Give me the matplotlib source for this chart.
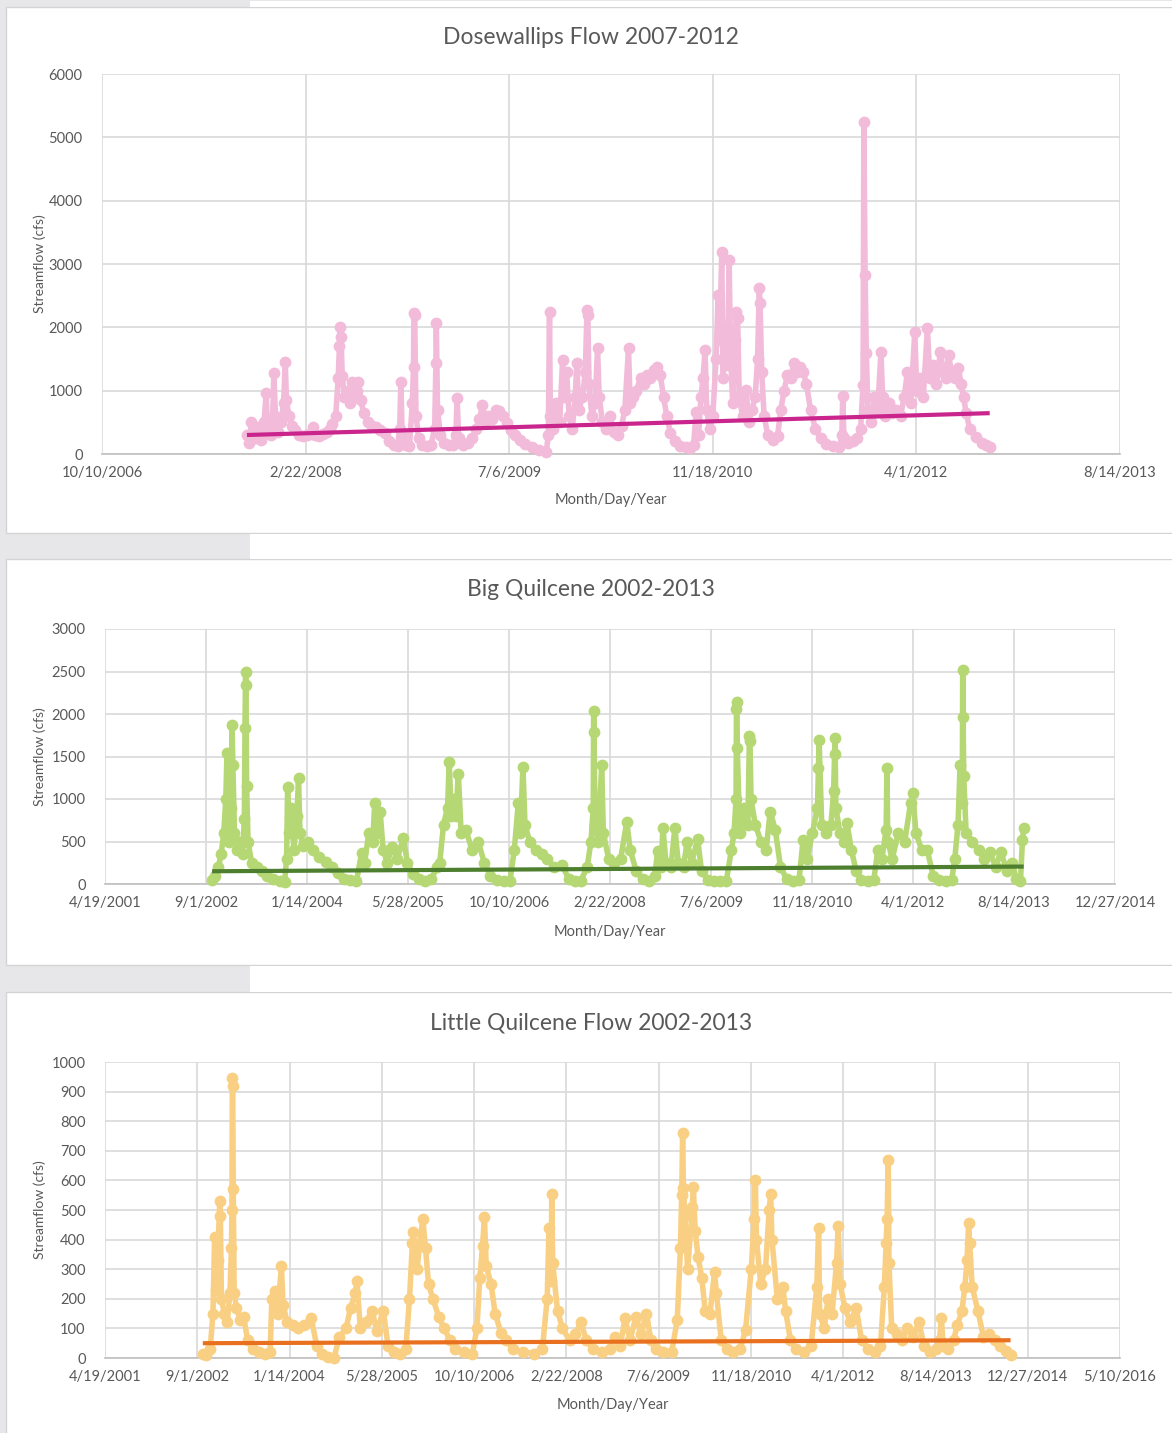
import numpy as np
import pandas as pd
import matplotlib
matplotlib.use("Agg")
import matplotlib.pyplot as plt
from matplotlib.patches import Rectangle

W, H = 1172, 1433
plt.rcParams['font.family'] = ['Lato', 'DejaVu Sans']
TXT = '#595959'
GRID = '#D9D9D9'

# ---------------- data ----------------
dose_obs = [
    ("2007-10-01", 300), ("2007-10-06", 180), ("2007-10-12", 500), ("2007-10-20", 260), ("2007-10-28", 420),
    ("2007-11-05", 220), ("2007-11-12", 500), ("2007-11-17", 960), ("2007-11-21", 400), ("2007-11-28", 300),
    ("2007-12-03", 550), ("2007-12-06", 1280), ("2007-12-10", 600), ("2007-12-16", 350), ("2007-12-24", 500),
    ("2007-12-30", 800), ("2008-01-03", 1450), ("2008-01-06", 850), ("2008-01-12", 600), ("2008-01-20", 450),
    ("2008-01-28", 380), ("2008-02-06", 300), ("2008-02-16", 280), ("2008-02-26", 300), ("2008-03-05", 320),
    ("2008-03-10", 430), ("2008-03-16", 300), ("2008-03-26", 290), ("2008-04-05", 310), ("2008-04-15", 350),
    ("2008-04-22", 400), ("2008-04-28", 470), ("2008-05-06", 600), ("2008-05-12", 1200), ("2008-05-15", 1700),
    ("2008-05-17", 2000), ("2008-05-19", 1850), ("2008-05-22", 1230), ("2008-05-27", 900), ("2008-06-03", 1000),
    ("2008-06-09", 800), ("2008-06-14", 1140), ("2008-06-20", 900), ("2008-06-26", 1000), ("2008-06-30", 1140),
    ("2008-07-06", 850), ("2008-07-14", 650), ("2008-07-24", 500), ("2008-08-04", 450), ("2008-08-12", 420),
    ("2008-08-22", 380), ("2008-09-05", 330), ("2008-09-15", 200), ("2008-09-25", 150), ("2008-10-05", 120),
    ("2008-10-10", 400), ("2008-10-13", 1140), ("2008-10-16", 300), ("2008-10-25", 150), ("2008-11-03", 120),
    ("2008-11-10", 800), ("2008-11-13", 1380), ("2008-11-14", 2220), ("2008-11-16", 2190), ("2008-11-19", 600),
    ("2008-11-26", 250), ("2008-12-05", 150), ("2008-12-15", 130), ("2008-12-26", 150), ("2009-01-04", 400),
    ("2009-01-07", 1430), ("2009-01-08", 2070), ("2009-01-11", 700), ("2009-01-18", 300), ("2009-01-28", 180),
    ("2009-02-08", 140), ("2009-02-18", 150), ("2009-02-25", 300), ("2009-02-28", 880), ("2009-03-04", 250),
    ("2009-03-14", 150), ("2009-03-26", 180), ("2009-04-06", 250), ("2009-04-16", 400), ("2009-04-24", 550),
    ("2009-05-01", 770), ("2009-05-08", 500), ("2009-05-16", 600), ("2009-05-24", 550), ("2009-06-04", 700),
    ("2009-06-12", 680), ("2009-06-20", 600), ("2009-06-30", 490), ("2009-07-10", 380), ("2009-07-20", 300),
    ("2009-08-01", 220), ("2009-08-15", 160), ("2009-09-01", 110), ("2009-09-18", 60), ("2009-10-05", 30),
    ("2009-10-10", 300), ("2009-10-13", 2240), ("2009-10-15", 600), ("2009-10-22", 400), ("2009-10-30", 800),
    ("2009-11-07", 500), ("2009-11-14", 1480), ("2009-11-18", 900), ("2009-11-24", 1300), ("2009-11-30", 600),
    ("2009-12-08", 400), ("2009-12-15", 900), ("2009-12-19", 1440), ("2009-12-24", 700), ("2010-01-02", 900),
    ("2010-01-09", 1300), ("2010-01-13", 2270), ("2010-01-15", 2200), ("2010-01-18", 1100), ("2010-01-25", 600),
    ("2010-02-02", 800), ("2010-02-08", 1670), ("2010-02-12", 900), ("2010-02-20", 500), ("2010-03-01", 400),
    ("2010-03-10", 600), ("2010-03-20", 350), ("2010-03-30", 300), ("2010-04-08", 450), ("2010-04-16", 700),
    ("2010-04-25", 1670), ("2010-04-29", 800), ("2010-05-06", 900), ("2010-05-14", 1000), ("2010-05-25", 1200),
    ("2010-06-02", 1100), ("2010-06-10", 1250), ("2010-06-18", 1200), ("2010-06-26", 1330), ("2010-07-04", 1370),
    ("2010-07-12", 1250), ("2010-07-20", 900), ("2010-07-28", 600), ("2010-08-06", 330), ("2010-08-18", 200),
    ("2010-08-30", 130), ("2010-09-12", 110), ("2010-09-24", 100), ("2010-10-02", 150), ("2010-10-08", 660),
    ("2010-10-14", 300), ("2010-10-20", 900), ("2010-10-25", 1200), ("2010-10-30", 1640), ("2010-11-03", 700),
    ("2010-11-10", 400), ("2010-11-18", 600), ("2010-11-26", 1500), ("2010-12-01", 2510), ("2010-12-05", 1800),
    ("2010-12-10", 3190), ("2010-12-13", 1200), ("2010-12-18", 2000), ("2010-12-24", 1400), ("2010-12-28", 3060),
    ("2011-01-01", 1500), ("2011-01-06", 800), ("2011-01-12", 1800), ("2011-01-15", 2240), ("2011-01-18", 2140),
    ("2011-01-22", 900), ("2011-01-30", 600), ("2011-02-08", 1010), ("2011-02-14", 500), ("2011-02-22", 700),
    ("2011-03-02", 900), ("2011-03-08", 1500), ("2011-03-12", 2620), ("2011-03-14", 2390), ("2011-03-18", 1300),
    ("2011-03-24", 600), ("2011-04-02", 300), ("2011-04-14", 220), ("2011-04-26", 280), ("2011-05-04", 700),
    ("2011-05-12", 1000), ("2011-05-20", 1240), ("2011-05-28", 1200), ("2011-06-05", 1430), ("2011-06-12", 1300),
    ("2011-06-20", 1370), ("2011-06-28", 1300), ("2011-07-06", 1100), ("2011-07-16", 700), ("2011-07-28", 400),
    ("2011-08-10", 250), ("2011-08-24", 160), ("2011-09-08", 120), ("2011-09-25", 110), ("2011-10-01", 300),
    ("2011-10-03", 920), ("2011-10-06", 250), ("2011-10-16", 180), ("2011-10-28", 200), ("2011-11-08", 250),
    ("2011-11-16", 400), ("2011-11-22", 1090), ("2011-11-24", 5250), ("2011-11-27", 2830), ("2011-11-30", 1590),
    ("2011-12-04", 700), ("2011-12-12", 500), ("2011-12-20", 900), ("2011-12-28", 700), ("2012-01-05", 1610),
    ("2012-01-09", 900), ("2012-01-16", 600), ("2012-01-24", 800), ("2012-02-02", 650), ("2012-02-12", 700),
    ("2012-02-22", 600), ("2012-03-02", 900), ("2012-03-10", 1300), ("2012-03-18", 800), ("2012-03-28", 1930),
    ("2012-04-02", 1000), ("2012-04-10", 1200), ("2012-04-18", 900), ("2012-04-28", 1990), ("2012-05-04", 1200),
    ("2012-05-12", 1400), ("2012-05-20", 1100), ("2012-05-30", 1610), ("2012-06-06", 1300), ("2012-06-12", 1200),
    ("2012-06-19", 1560), ("2012-06-26", 1300), ("2012-07-04", 1200), ("2012-07-13", 1360), ("2012-07-20", 1100),
    ("2012-07-26", 900), ("2012-08-01", 650), ("2012-08-10", 400), ("2012-08-26", 270), ("2012-09-10", 180),
    ("2012-09-20", 140), ("2012-09-28", 110),
]
dose_trend = (300, 645)

bigq_obs = [
    ("2002-10-01", 50), ("2002-10-15", 100), ("2002-11-01", 200), ("2002-11-15", 350), ("2002-11-28", 600),
    ("2002-12-08", 1000), ("2002-12-14", 1540), ("2002-12-18", 700), ("2002-12-26", 500), ("2003-01-04", 900),
    ("2003-01-08", 1870), ("2003-01-12", 1400), ("2003-01-20", 600), ("2003-02-01", 400), ("2003-02-15", 500),
    ("2003-03-01", 350), ("2003-03-10", 770), ("2003-03-13", 1840), ("2003-03-16", 2490), ("2003-03-18", 2340),
    ("2003-03-21", 1150), ("2003-03-28", 500), ("2003-04-15", 250), ("2003-05-10", 200), ("2003-06-05", 150),
    ("2003-07-01", 100), ("2003-08-01", 60), ("2003-09-01", 30), ("2003-09-25", 20), ("2003-10-05", 300),
    ("2003-10-10", 1140), ("2003-10-16", 600), ("2003-10-28", 900), ("2003-11-10", 400), ("2003-11-25", 800),
    ("2003-12-03", 1250), ("2003-12-10", 600), ("2003-12-25", 450), ("2004-01-20", 500), ("2004-02-15", 400),
    ("2004-03-15", 320), ("2004-04-15", 260), ("2004-05-15", 200), ("2004-06-15", 130), ("2004-07-15", 60),
    ("2004-08-15", 50), ("2004-09-15", 40), ("2004-10-10", 360), ("2004-10-25", 250), ("2004-11-15", 600),
    ("2004-12-05", 500), ("2004-12-14", 950), ("2004-12-25", 600), ("2005-01-10", 850), ("2005-01-25", 400),
    ("2005-02-15", 250), ("2005-03-10", 440), ("2005-04-05", 300), ("2005-05-05", 540), ("2005-05-25", 250),
    ("2005-06-20", 120), ("2005-07-20", 60), ("2005-08-20", 40), ("2005-09-20", 60), ("2005-10-20", 200),
    ("2005-11-01", 250), ("2005-11-20", 700), ("2005-12-10", 900), ("2005-12-18", 1440), ("2005-12-28", 800),
    ("2006-01-10", 1000), ("2006-01-20", 800), ("2006-02-01", 1300), ("2006-02-15", 600), ("2006-03-10", 640),
    ("2006-04-10", 400), ("2006-05-10", 500), ("2006-06-10", 250), ("2006-07-10", 100), ("2006-08-10", 50),
    ("2006-09-15", 30), ("2006-10-15", 40), ("2006-11-05", 400), ("2006-11-25", 950), ("2006-12-05", 600),
    ("2006-12-18", 1380), ("2006-12-28", 700), ("2007-01-20", 500), ("2007-02-20", 400), ("2007-03-20", 350),
    ("2007-04-15", 300), ("2007-05-20", 200), ("2007-07-01", 220), ("2007-08-01", 60), ("2007-09-01", 30),
    ("2007-10-01", 40), ("2007-11-01", 200), ("2007-11-20", 500), ("2007-12-01", 900), ("2007-12-03", 2030),
    ("2007-12-05", 1790), ("2007-12-10", 700), ("2007-12-25", 500), ("2008-01-12", 1400), ("2008-01-20", 600),
    ("2008-02-15", 300), ("2008-03-15", 250), ("2008-04-15", 300), ("2008-05-15", 730), ("2008-06-01", 400),
    ("2008-07-01", 150), ("2008-08-01", 60), ("2008-09-01", 40), ("2008-10-01", 100), ("2008-10-15", 390),
    ("2008-11-01", 200), ("2008-11-10", 660), ("2008-11-25", 250), ("2008-12-20", 200), ("2009-01-08", 660),
    ("2009-01-25", 250), ("2009-02-20", 200), ("2009-03-10", 500), ("2009-04-01", 250), ("2009-05-01", 530),
    ("2009-05-20", 150), ("2009-06-20", 50), ("2009-07-20", 40), ("2009-08-20", 30), ("2009-09-20", 40),
    ("2009-10-15", 400), ("2009-10-28", 600), ("2009-11-07", 1000), ("2009-11-09", 2060), ("2009-11-10", 2140),
    ("2009-11-13", 1600), ("2009-11-25", 600), ("2009-12-15", 900), ("2010-01-05", 700), ("2010-01-12", 1740),
    ("2010-01-15", 1680), ("2010-01-20", 1000), ("2010-02-10", 700), ("2010-03-10", 500), ("2010-04-05", 400),
    ("2010-04-25", 850), ("2010-05-20", 640), ("2010-06-15", 200), ("2010-07-15", 60), ("2010-08-15", 40),
    ("2010-09-15", 50), ("2010-10-05", 520), ("2010-10-25", 300), ("2010-11-20", 600), ("2010-12-15", 900),
    ("2010-12-20", 1360), ("2010-12-23", 1700), ("2011-01-05", 700), ("2011-01-25", 600), ("2011-02-20", 700),
    ("2011-03-05", 1090), ("2011-03-10", 1530), ("2011-03-12", 1720), ("2011-03-16", 900), ("2011-04-05", 600),
    ("2011-04-25", 500), ("2011-05-10", 720), ("2011-06-01", 400), ("2011-06-25", 150), ("2011-07-20", 50),
    ("2011-08-20", 40), ("2011-09-20", 50), ("2011-10-10", 400), ("2011-10-30", 300), ("2011-11-20", 640),
    ("2011-11-24", 1360), ("2011-11-28", 500), ("2011-12-20", 300), ("2012-01-20", 600), ("2012-02-20", 500),
    ("2012-03-20", 950), ("2012-04-01", 1070), ("2012-04-15", 600), ("2012-05-15", 400), ("2012-06-10", 400),
    ("2012-07-10", 100), ("2012-08-10", 50), ("2012-09-10", 40), ("2012-10-10", 50), ("2012-10-25", 300),
    ("2012-11-10", 700), ("2012-11-20", 1400), ("2012-12-01", 950), ("2012-12-03", 2520), ("2012-12-05", 1960),
    ("2012-12-08", 1270), ("2012-12-20", 600), ("2013-01-20", 500), ("2013-02-20", 400), ("2013-03-20", 300),
    ("2013-04-15", 380), ("2013-05-15", 200), ("2013-06-10", 380), ("2013-07-10", 150), ("2013-08-05", 250),
    ("2013-08-25", 60), ("2013-09-15", 40), ("2013-09-25", 520), ("2013-10-01", 660),
]
bigq_trend = (150, 205)

littleq_obs = [
    ("2002-10-01", 15), ("2002-10-20", 10), ("2002-11-10", 30), ("2002-11-25", 150), ("2002-12-04", 410),
    ("2002-12-12", 230), ("2002-12-20", 330), ("2003-01-01", 530), ("2003-01-04", 480), ("2003-01-10", 200),
    ("2003-01-25", 150), ("2003-02-10", 120), ("2003-02-25", 220), ("2003-03-05", 370), ("2003-03-08", 500),
    ("2003-03-10", 945), ("2003-03-12", 920), ("2003-03-15", 570), ("2003-03-20", 220), ("2003-04-01", 170),
    ("2003-04-20", 130), ("2003-05-10", 140), ("2003-06-01", 60), ("2003-07-01", 30), ("2003-08-01", 20),
    ("2003-09-01", 15), ("2003-10-01", 20), ("2003-10-10", 200), ("2003-10-25", 225), ("2003-11-10", 150),
    ("2003-12-01", 310), ("2003-12-10", 180), ("2004-01-01", 120), ("2004-02-01", 110), ("2004-03-01", 100),
    ("2004-04-01", 110), ("2004-05-10", 135), ("2004-06-10", 40), ("2004-07-10", 15), ("2004-08-10", 5),
    ("2004-09-10", 0), ("2004-10-10", 70), ("2004-11-15", 100), ("2004-12-10", 170), ("2005-01-05", 220),
    ("2005-01-12", 260), ("2005-02-01", 100), ("2005-03-01", 120), ("2005-04-05", 160), ("2005-05-01", 90),
    ("2005-06-05", 160), ("2005-07-01", 40), ("2005-08-01", 20), ("2005-09-01", 15), ("2005-10-05", 30),
    ("2005-10-25", 200), ("2005-11-10", 390), ("2005-11-15", 425), ("2005-12-05", 300), ("2005-12-20", 390),
    ("2006-01-05", 470), ("2006-01-20", 370), ("2006-02-05", 250), ("2006-03-01", 200), ("2006-04-01", 140),
    ("2006-05-01", 100), ("2006-06-01", 60), ("2006-07-01", 30), ("2006-08-15", 20), ("2006-10-01", 15),
    ("2006-10-25", 100), ("2006-11-10", 270), ("2006-11-25", 380), ("2006-12-05", 475), ("2006-12-15", 310),
    ("2007-01-10", 250), ("2007-02-01", 150), ("2007-03-05", 85), ("2007-04-01", 60), ("2007-05-10", 30),
    ("2007-07-01", 20), ("2007-09-01", 15), ("2007-10-15", 30), ("2007-11-10", 200), ("2007-11-20", 440),
    ("2007-12-01", 260), ("2007-12-05", 555), ("2007-12-10", 320), ("2008-01-05", 160), ("2008-02-01", 100),
    ("2008-03-10", 60), ("2008-04-10", 80), ("2008-05-10", 120), ("2008-06-10", 60), ("2008-07-15", 30),
    ("2008-09-01", 20), ("2008-10-15", 30), ("2008-11-10", 70), ("2008-12-10", 40), ("2009-01-05", 135),
    ("2009-02-01", 60), ("2009-03-05", 140), ("2009-04-01", 80), ("2009-05-01", 150), ("2009-05-25", 60),
    ("2009-06-20", 30), ("2009-08-01", 20), ("2009-09-15", 20), ("2009-10-15", 130), ("2009-11-01", 370),
    ("2009-11-08", 550), ("2009-11-13", 760), ("2009-11-17", 575), ("2009-11-25", 480), ("2009-12-10", 300),
    ("2010-01-05", 510), ("2010-01-10", 578), ("2010-01-20", 430), ("2010-02-05", 340), ("2010-02-25", 270),
    ("2010-03-15", 160), ("2010-04-10", 150), ("2010-05-05", 290), ("2010-05-15", 220), ("2010-06-10", 60),
    ("2010-07-10", 30), ("2010-08-15", 20), ("2010-09-20", 30), ("2010-10-20", 95), ("2010-11-20", 300),
    ("2010-12-05", 470), ("2010-12-12", 600), ("2010-12-18", 400), ("2011-01-10", 250), ("2011-02-05", 300),
    ("2011-02-25", 500), ("2011-03-05", 555), ("2011-03-12", 400), ("2011-04-10", 200), ("2011-05-10", 240),
    ("2011-05-25", 160), ("2011-06-20", 60), ("2011-07-20", 30), ("2011-09-01", 20), ("2011-10-10", 40),
    ("2011-11-10", 240), ("2011-11-20", 440), ("2011-11-25", 150), ("2011-12-20", 100), ("2012-01-10", 200),
    ("2012-02-01", 150), ("2012-02-25", 320), ("2012-03-05", 445), ("2012-03-15", 250), ("2012-04-10", 170),
    ("2012-05-10", 120), ("2012-06-10", 170), ("2012-07-10", 60), ("2012-08-15", 30), ("2012-09-20", 20),
    ("2012-10-20", 40), ("2012-11-10", 240), ("2012-11-20", 390), ("2012-11-25", 470), ("2012-12-01", 670),
    ("2012-12-05", 320), ("2012-12-20", 100), ("2013-01-15", 80), ("2013-02-15", 60), ("2013-03-15", 100),
    ("2013-04-15", 70), ("2013-05-15", 120), ("2013-06-15", 40), ("2013-07-15", 20), ("2013-08-15", 30),
    ("2013-09-05", 60), ("2013-09-15", 135), ("2013-09-25", 40), ("2013-10-20", 30), ("2013-11-20", 60),
    ("2013-12-10", 110), ("2014-01-05", 160), ("2014-01-20", 240), ("2014-02-01", 330), ("2014-02-10", 455),
    ("2014-02-15", 390), ("2014-03-01", 240), ("2014-04-01", 160), ("2014-05-01", 70), ("2014-06-01", 80),
    ("2014-07-01", 60), ("2014-08-01", 40), ("2014-09-01", 25), ("2014-09-25", 10),
]
littleq_trend = (50, 60)

titles = ["Dosewallips Flow 2007-2012", "Big Quilcene 2002-2013", "Little Quilcene Flow 2002-2013"]
x_starts = ["2006-10-10", "2001-04-19", "2001-04-19"]
x_ntick = [6, 11, 12]
y_max = [6000, 3000, 1000]
y_step = [1000, 500, 100]
colors = [("#F2BBD9", "#C9258C"), ("#B5D874", "#4D7F2F"), ("#F9D083", "#E8701F")]

# ---------------- figure ----------------
fig = plt.figure(figsize=(W / 100, H / 100), dpi=100)
bg = fig.add_axes([0, 0, 1, 1], zorder=-5)
bg.set_xlim(0, W)
bg.set_ylim(H, 0)
bg.axis('off')
# screenshot cards
bg.add_patch(Rectangle((0, 0), W, H, color='#E7E7E9'))
for top, bot in [(7, 533), (559, 965), (992, H + 5)]:
    bg.add_patch(Rectangle((6, top), W, bot - top, facecolor='white', edgecolor='#D4D4D4', lw=1))
for top, bot in [(0, 7), (533, 559), (965, 992)]:
    bg.add_patch(Rectangle((250, top + 1), W, bot - top - 1, facecolor='white', edgecolor='none'))

# plot areas in pixels: left, top, right, bottom
boxes = [(102, 74, 1120, 454), (105, 629, 1115, 884), (105, 1062, 1120, 1358)]
title_y = [37, 590, 1023]
xlabel_y = [500, 932, 1405]
ylabel_x = [40, 40, 40]

series = [dose_obs, bigq_obs, littleq_obs]
trends = [dose_trend, bigq_trend, littleq_trend]

for i in range(3):
    l, t, r, b = boxes[i]
    ax = fig.add_axes([l / W, 1 - b / H, (r - l) / W, (b - t) / H])
    ax.set_facecolor('none')

    dates = pd.to_datetime([d for d, v in series[i]])
    flows = np.array([v for d, v in series[i]])
    light, dark = colors[i]
    ax.plot(dates, flows, color=light, lw=4, marker='o', ms=8.5,
            markeredgewidth=0, solid_joinstyle='round', zorder=3, clip_on=False)
    ax.plot([dates[0], dates[-1]], list(trends[i]), color=dark, lw=3, zorder=4,
            solid_capstyle='butt')

    ticks = pd.date_range(x_starts[i], periods=x_ntick[i], freq='500D')
    ax.set_xlim(ticks[0], ticks[-1])
    ax.set_xticks(ticks)
    ax.set_xticklabels([f"{d.month}/{d.day}/{d.year}" for d in ticks])
    ax.set_ylim(0, y_max[i])
    ax.set_yticks(np.arange(0, y_max[i] + 1, y_step[i]))

    ax.grid(True, color=GRID, lw=1.2, zorder=0)
    ax.set_axisbelow(True)
    for s in ['top', 'right', 'left']:
        ax.spines[s].set_visible(False)
    ax.spines['bottom'].set_color('#BFBFBF')
    ax.spines['bottom'].set_linewidth(1.2)
    ax.tick_params(length=0, labelsize=10.5, labelcolor=TXT, pad=9)
    ax.tick_params(axis='y', pad=14)

    fig.text(591 / W, 1 - title_y[i] / H, titles[i], ha='center', va='center',
             fontsize=16.5, color=TXT)
    fig.text((l + r) / 2 / W, 1 - xlabel_y[i] / H, "Month/Day/Year", ha='center',
             va='center', fontsize=10.5, color=TXT)
    fig.text(ylabel_x[i] / W, 1 - (t + b) / 2 / H, "Streamflow (cfs)", ha='center',
             va='center', rotation=90, fontsize=10, color=TXT)

fig.savefig("out.png", dpi=100)
